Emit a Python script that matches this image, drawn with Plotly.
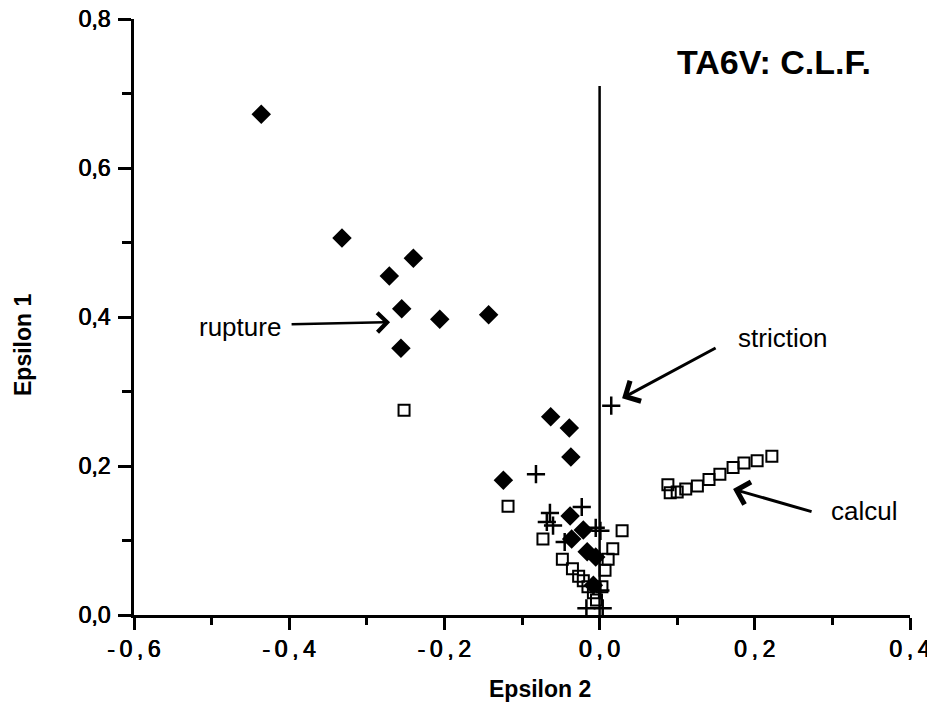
import plotly.graph_objects as go

# rupture (filled diamonds)
rupture_x = [-0.436, -0.332, -0.271, -0.240, -0.255, -0.206, -0.143, -0.256,
             -0.063, -0.039, -0.037, -0.124, -0.038, -0.021, -0.036, -0.016,
             -0.005, -0.008]
rupture_y = [0.672, 0.506, 0.455, 0.479, 0.411, 0.397, 0.403, 0.358,
             0.266, 0.251, 0.212, 0.181, 0.133, 0.114, 0.102, 0.085,
             0.078, 0.040]

# striction (crosses)
striction_x = [0.015, -0.082, -0.023, -0.064, -0.068, -0.045, -0.005,
               0.001, -0.017, 0.004, 0.001, -0.060]
striction_y = [0.281, 0.189, 0.145, 0.137, 0.125, 0.098, 0.117,
               0.113, 0.009, 0.009, 0.033, 0.120]

# calcul (open squares)
calcul_x = [-0.252, -0.118, -0.073, 0.029, 0.017, 0.011, 0.007, 0.003,
            -0.048, -0.035, -0.027, -0.021, -0.015, -0.008, -0.004,
            0.088, 0.091, 0.100, 0.111, 0.126, 0.141, 0.155, 0.172,
            0.186, 0.203, 0.222]
calcul_y = [0.275, 0.146, 0.102, 0.113, 0.089, 0.075, 0.060, 0.038,
            0.075, 0.062, 0.052, 0.046, 0.038, 0.030, 0.020,
            0.175, 0.164, 0.165, 0.169, 0.173, 0.182, 0.189, 0.198,
            0.204, 0.207, 0.213]

T = "\u2009"
x_tickvals = [-0.6, -0.4, -0.2, 0.0, 0.2, 0.4]
x_ticktext = ["-" + T + "0" + T + "," + T + "6", "-" + T + "0" + T + "," + T + "4",
              "-" + T + "0" + T + "," + T + "2", "0" + T + "," + T + "0",
              "0" + T + "," + T + "2", "0" + T + "," + T + "4"]
y_tickvals = [0.0, 0.2, 0.4, 0.6, 0.8]
y_ticktext = ["0,0", "0,2", "0,4", "0,6", "0,8"]

FONT = "Liberation Sans, Arial, sans-serif"
THICK = "0.4px 0 0 black, -0.4px 0 0 black"

fig = go.Figure()
fig.add_trace(go.Scatter(x=calcul_x, y=calcul_y, mode="markers", name="calcul",
                         marker=dict(symbol="square-open", size=11, color="black",
                                     line=dict(width=2, color="black"))))
fig.add_trace(go.Scatter(x=striction_x, y=striction_y, mode="markers", name="striction",
                         marker=dict(symbol="cross-thin-open", size=13, color="black",
                                     line=dict(width=2.5, color="black"))))
fig.add_trace(go.Scatter(x=rupture_x, y=rupture_y, mode="markers", name="rupture",
                         marker=dict(symbol="diamond", size=15, color="black",
                                     line=dict(width=0))))

# vertical reference line at epsilon2 = 0
fig.add_shape(type="line", x0=0, x1=0, y0=0, y1=0.71, xref="x", yref="y",
              line=dict(color="black", width=2.5))

ann_font = dict(family=FONT, size=26, color="black")
fig.add_annotation(x=-0.463, y=0.387, text="rupture", showarrow=False, font=ann_font)
fig.add_annotation(x=-0.270, y=0.393, ax=-100, ay=2, text="", showarrow=True,
                   arrowhead=4, arrowsize=1.5, arrowwidth=2.5, arrowcolor="black")
fig.add_annotation(x=0.236, y=0.372, text="striction", showarrow=False, font=ann_font)
fig.add_annotation(x=0.029, y=0.291, ax=95, ay=-51, text="", showarrow=True,
                   arrowhead=4, arrowsize=1.5, arrowwidth=3, arrowcolor="black")
fig.add_annotation(x=0.341, y=0.140, text="calcul", showarrow=False, font=ann_font)
fig.add_annotation(x=0.172, y=0.169, ax=80, ay=23, text="", showarrow=True,
                   arrowhead=4, arrowsize=1.5, arrowwidth=3, arrowcolor="black")
fig.add_annotation(x=0.225, y=0.742, text="<b>TA6V: C.L.F.</b>", showarrow=False,
                   font=dict(family=FONT, size=34, color="black"))

# axis titles
fig.add_annotation(xref="paper", yref="paper", x=(540 - 134) / 776, y=-(689 - 615) / 596,
                   xanchor="center", yanchor="middle",
                   text="<b>Epsilon 2</b>", showarrow=False,
                   font=dict(family=FONT, size=23, color="black"))
fig.add_annotation(xref="paper", yref="paper", x=-(134 - 23) / 776, y=(615 - 345) / 596,
                   xanchor="center", yanchor="middle",
                   text="<b>Epsilon 1</b>", showarrow=False, textangle=-90,
                   font=dict(family=FONT, size=23, color="black"))

# page body has an 8px margin: shrink figure accordingly
fig.update_layout(
    width=927, height=694,
    margin=dict(l=126, r=25, t=11, b=87, autoexpand=False),
    paper_bgcolor="white", plot_bgcolor="white",
    showlegend=False,
    font=dict(family=FONT, color="black"),
)
fig.update_xaxes(
    range=[-0.6, 0.4], showgrid=False, zeroline=False,
    showline=True, linecolor="black", linewidth=2.5,
    tickmode="array", tickvals=x_tickvals, ticktext=x_ticktext,
    ticks="outside", ticklen=12, tickwidth=2.5, tickcolor="black",
    minor=dict(dtick=0.1, tick0=-0.6, ticks="outside", ticklen=7, tickwidth=2.5, tickcolor="black"),
    tickfont=dict(family=FONT, size=23, color="black", shadow=THICK),
    ticklabeloverflow="allow",
)
fig.update_yaxes(
    range=[0, 0.8], showgrid=False, zeroline=False,
    showline=True, linecolor="black", linewidth=2.5,
    tickmode="array", tickvals=y_tickvals, ticktext=y_ticktext,
    ticks="outside", ticklen=13, tickwidth=2.5, tickcolor="black",
    minor=dict(dtick=0.1, tick0=0, ticks="outside", ticklen=9, tickwidth=2.5, tickcolor="black"),
    tickfont=dict(family=FONT, size=23, color="black", shadow=THICK),
    ticklabelstandoff=3,
    ticklabeloverflow="allow",
)

fig.write_html("out.html")
